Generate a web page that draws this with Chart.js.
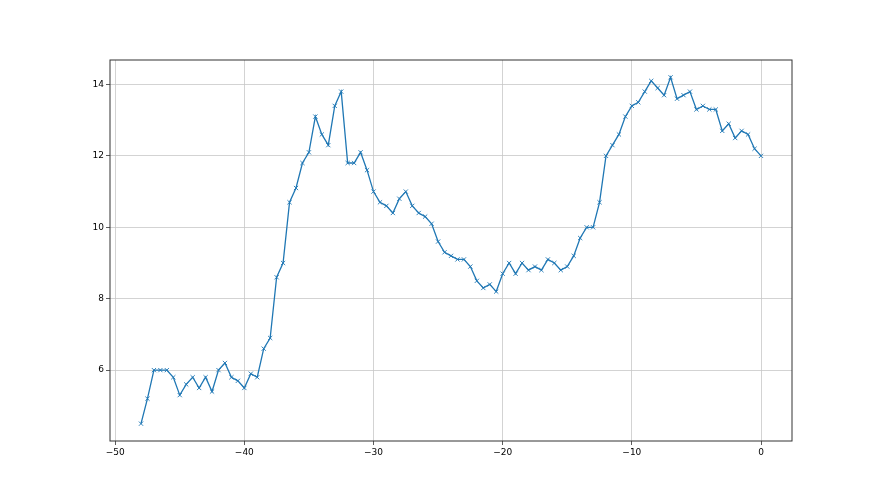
<!DOCTYPE html>
<html>
<head>
<meta charset="utf-8">
<script src="https://cdn.jsdelivr.net/npm/chart.js@4/dist/chart.umd.min.js"></script>
<style>
  html, body { margin: 0; padding: 0; background: #fff; }
  #wrap { width: 880px; height: 495px; }
</style>
</head>
<body>
<div id="wrap"><canvas id="chart"></canvas></div>
<script>
// x runs from -48 to 0 in steps of 0.5
const xValues = [
  -48, -47.5, -47, -46.5, -46, -45.5, -45, -44.5, -44, -43.5,
  -43, -42.5, -42, -41.5, -41, -40.5, -40, -39.5, -39, -38.5,
  -38, -37.5, -37, -36.5, -36, -35.5, -35, -34.5, -34, -33.5,
  -33, -32.5, -32, -31.5, -31, -30.5, -30, -29.5, -29, -28.5,
  -28, -27.5, -27, -26.5, -26, -25.5, -25, -24.5, -24, -23.5,
  -23, -22.5, -22, -21.5, -21, -20.5, -20, -19.5, -19, -18.5,
  -18, -17.5, -17, -16.5, -16, -15.5, -15, -14.5, -14, -13.5,
  -13, -12.5, -12, -11.5, -11, -10.5, -10, -9.5, -9, -8.5,
  -8, -7.5, -7, -6.5, -6, -5.5, -5, -4.5, -4, -3.5,
  -3, -2.5, -2, -1.5, -1, -0.5, 0
];
const yValues = [
  4.5, 5.2, 6.0, 6.0, 6.0, 5.8, 5.3, 5.6, 5.8, 5.5,
  5.8, 5.4, 6.0, 6.2, 5.8, 5.7, 5.5, 5.9, 5.8, 6.6,
  6.9, 8.6, 9.0, 10.7, 11.1, 11.8, 12.1, 13.1, 12.6, 12.3,
  13.4, 13.8, 11.8, 11.8, 12.1, 11.6, 11.0, 10.7, 10.6, 10.4,
  10.8, 11.0, 10.6, 10.4, 10.3, 10.1, 9.6, 9.3, 9.2, 9.1,
  9.1, 8.9, 8.5, 8.3, 8.4, 8.2, 8.7, 9.0, 8.7, 9.0,
  8.8, 8.9, 8.8, 9.1, 9.0, 8.8, 8.9, 9.2, 9.7, 10.0,
  10.0, 10.7, 12.0, 12.3, 12.6, 13.1, 13.4, 13.5, 13.8, 14.1,
  13.9, 13.7, 14.2, 13.6, 13.7, 13.8, 13.3, 13.4, 13.3, 13.3,
  12.7, 12.9, 12.5, 12.7, 12.6, 12.2, 12.0
];
const xTicks = [-50, -40, -30, -20, -10, 0];
const yTicks = [6, 8, 10, 12, 14];

const points = xValues.map((x, i) => ({ x: x, y: yValues[i] }));

const fmt = v => (v < 0 ? '\u2212' + Math.abs(v) : String(v));

// matplotlib style frame on all four sides
const frame = {
  id: 'frame',
  afterDraw(chart) {
    const a = chart.chartArea;
    const ctx = chart.ctx;
    ctx.save();
    ctx.strokeStyle = '#333';
    ctx.lineWidth = 1;
    ctx.strokeRect(a.left, a.top, a.right - a.left, a.bottom - a.top);
    ctx.restore();
  }
};

new Chart(document.getElementById('chart'), {
  type: 'line',
  data: {
    datasets: [{
      data: points,
      borderColor: '#1f77b4',
      backgroundColor: '#1f77b4',
      borderWidth: 1.3,
      pointStyle: 'crossRot',
      pointRadius: 3,
      pointBorderWidth: 0.9,
      pointBorderColor: '#1f77b4',
      fill: false,
      tension: 0
    }]
  },
  options: {
    responsive: true,
    maintainAspectRatio: false,
    animation: false,
    events: [],
    layout: { padding: { left: 0, right: 88, top: 60, bottom: 0 } },
    plugins: {
      legend: { display: false },
      tooltip: { enabled: false }
    },
    scales: {
      x: {
        type: 'linear',
        min: -50.4,
        max: 2.4,
        afterBuildTicks: s => { s.ticks = xTicks.map(v => ({ value: v })); },
        afterFit: s => { s.height = 54; },
        grid: { color: '#c8c8c8', lineWidth: 0.8, tickLength: 4, tickColor: '#333', drawTicks: true },
        border: { display: false },
        ticks: {
          color: '#000',
          font: { family: 'DejaVu Sans', size: 9 },
          padding: 2,
          maxRotation: 0,
          callback: v => fmt(v)
        }
      },
      y: {
        type: 'linear',
        min: 4.015,
        max: 14.685,
        afterBuildTicks: s => { s.ticks = yTicks.map(v => ({ value: v })); },
        afterFit: s => { s.width = 110; },
        grid: { color: '#c8c8c8', lineWidth: 0.8, tickLength: 4, tickColor: '#333', drawTicks: true },
        border: { display: false },
        ticks: {
          color: '#000',
          font: { family: 'DejaVu Sans', size: 9 },
          padding: 2,
          callback: v => fmt(v)
        }
      }
    }
  },
  plugins: [frame]
});
</script>
</body>
</html>
